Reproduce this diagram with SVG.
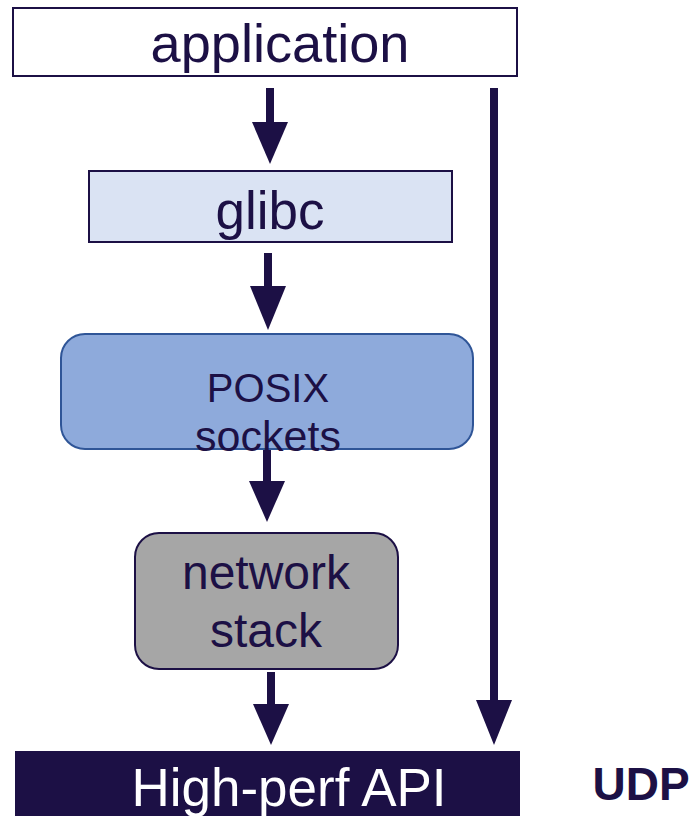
<svg xmlns="http://www.w3.org/2000/svg" width="695" height="816" viewBox="0 0 695 816">
<style>
text{font-family:"Liberation Sans",Arial,sans-serif;fill:#1c1045;text-anchor:middle}
.box{stroke:#1c1045;stroke-width:2}
.sh{stroke:#1c1045;stroke-width:8;fill:none}
.hd{fill:#1c1045}
</style>
<rect width="695" height="816" fill="#fff"/>
<g id="connectors">
<line class="sh" x1="270" y1="88" x2="270" y2="124"/><polygon class="hd" points="252,122 288,122 270,164"/>
<line class="sh" x1="268" y1="253" x2="268" y2="290"/><polygon class="hd" points="250,286 286,286 268,330"/>
<line class="sh" x1="267" y1="445" x2="267" y2="484"/><polygon class="hd" points="249,481 285,481 267,522"/>
<line class="sh" x1="271" y1="672" x2="271" y2="708"/><polygon class="hd" points="253,704 289,704 271,745"/>
<line class="sh" x1="494" y1="88" x2="494" y2="704"/><polygon class="hd" points="476,700 512,700 494,745"/>
</g>
<g id="application">
<rect class="box" x="13" y="8" width="504" height="68" fill="#fff"/>
<text x="280" y="62" font-size="54" textLength="259" lengthAdjust="spacingAndGlyphs">application</text>
</g>
<g id="glibc">
<rect class="box" x="89" y="171" width="363" height="71" fill="#dae3f3"/>
<text x="270" y="229" font-size="53">glibc</text>
</g>
<g id="posix">
<rect x="61" y="334" width="412" height="115" rx="24" fill="#8eaadb" stroke="#2f5597" stroke-width="2"/>
<text x="268" y="402" font-size="40">POSIX</text>
<text x="268" y="451" font-size="43">sockets</text>
</g>
<g id="network">
<rect class="box" x="135" y="533" width="263" height="136" rx="24" fill="#a6a6a6"/>
<text x="266" y="589" font-size="48">network</text>
<text x="266" y="647" font-size="48">stack</text>
</g>
<g id="api">
<rect x="15" y="751" width="505" height="70" fill="#1c1045"/>
<text x="289" y="806" font-size="53" style="fill:#fff">High-perf API</text>
</g>
<g id="udp">
<text x="641" y="800" font-size="46" font-weight="bold">UDP</text>
</g>
</svg>
